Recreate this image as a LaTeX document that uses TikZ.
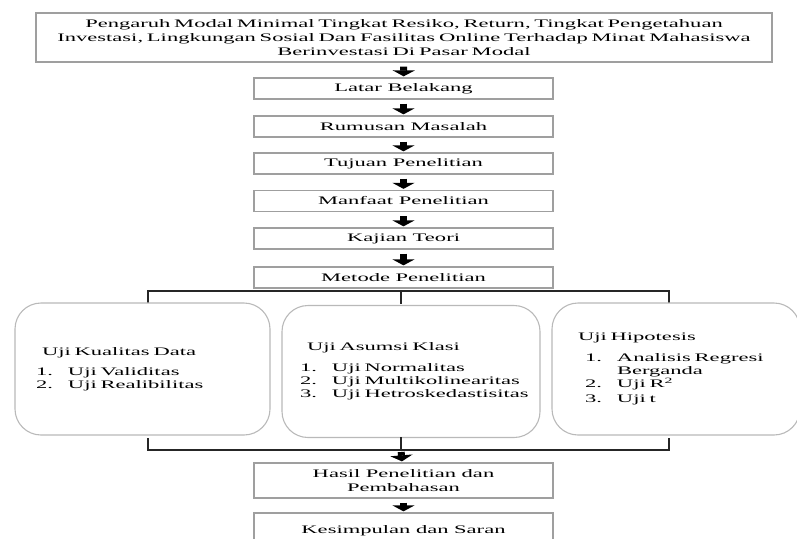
\documentclass[tikz,border=0pt]{standalone}
\usepackage{fontspec}
\setmainfont{Liberation Serif}[FakeStretch=1.96]
\usetikzlibrary{arrows.meta}
\newcommand{\itm}[2]{\mbox{\makebox[32pt][l]{#1}#2}}

\begin{document}
\begin{tikzpicture}[x=1pt,y=-1pt,
  box/.style={draw=gray!75,line width=1.3pt,minimum width=299pt,minimum height=21pt,
    inner sep=1pt,align=center,font=\fontsize{11.5}{14}\selectfont},
  ujibox/.style={draw=gray!55,line width=1.1pt,rounded corners=26pt,minimum height=132pt,
    align=left,font=\fontsize{11.5}{13}\selectfont},
  fat/.style={line width=7pt,-{Triangle[width=22pt,length=6pt]},shorten <=4pt,shorten >=1pt},
  brk/.style={line width=1.3pt,black!85}]

\useasboundingbox (0,0) rectangle (797,538);
\clip (0,0) rectangle (797,538);

\node[box,minimum width=736pt,minimum height=49pt,text width=730pt] (judul) at (404,37.5)
  {Pengaruh Modal Minimal Tingkat Resiko, Return, Tingkat Pengetahuan\\
   Investasi, Lingkungan Sosial Dan Fasilitas Online Terhadap Minat Mahasiswa\\
   Berinvestasi Di Pasar Modal};
\node[box] (latar) at (403.5,88.5) {Latar Belakang};
\node[box] (rumusan) at (403.5,126.5) {Rumusan Masalah};
\node[box] (tujuan) at (403.5,163.5) {Tujuan Penelitian};
\node[box] (manfaat) at (403.5,201) {Manfaat Penelitian};
\node[box] (kajian) at (403.5,238.5) {Kajian Teori};
\node[box] (metode) at (403.5,277.5) {Metode Penelitian};

\draw[fat] (judul) -- (latar);
\draw[fat] (latar) -- (rumusan);
\draw[fat] (rumusan) -- (tujuan);
\draw[fat] (tujuan) -- (manfaat);
\draw[fat] (manfaat) -- (kajian);
\draw[fat] (kajian) -- (metode);

% bracket to the three tests
\coordinate (ta) at (148,291);
\coordinate (tb) at (401,291);
\coordinate (tc) at (669,291);
\draw[brk] (148,303) -- (ta) -- (tc) -- (669,303);
\draw[brk] (tb) -- (401,304);

\node[ujibox,text width=213pt,inner xsep=21pt] (kualitas) at (142.5,369)
  {\hspace*{6pt}Uji Kualitas Data\\[7pt]
   \itm{1.}{Uji Validitas}\\
   \itm{2.}{Uji Realibilitas}};
\node[ujibox,text width=222pt,inner xsep=18pt] (asumsi) at (411,371.5)
  {\hspace*{7pt}Uji Asumsi Klasi\\[8pt]
   \itm{1.}{Uji Normalitas}\\
   \itm{2.}{Uji Multikolinearitas}\\
   \itm{3.}{Uji Hetroskedastisitas}};
\node[ujibox,text width=196pt,inner xsep=26pt] (hipotesis) at (676,369)
  {Uji Hipotesis\\[8pt]
   \hspace*{7pt}\itm{1.}{Analisis Regresi}\\
   \hspace*{7pt}\itm{}{Berganda}\\
   \hspace*{7pt}\itm{2.}{Uji R\textsuperscript{2}}\\[2pt]
   \hspace*{7pt}\itm{3.}{Uji t}};

\coordinate (ba) at (148,450);
\coordinate (bb) at (401,450);
\coordinate (bc) at (669,450);
\draw[brk] (148,438) -- (ba) -- (bc) -- (669,438);
\draw[brk] (401,437) -- (bb);

\node[box,minimum height=35pt] (hasil) at (403.5,480.5) {Hasil Penelitian dan\\Pembahasan};
\node[box,minimum height=36pt] (simpulan) at (403.5,531) {Kesimpulan dan Saran};

\draw[fat,shorten <=2pt] (bb) -- (hasil);
\draw[fat] (hasil) -- (simpulan);

\end{tikzpicture}
\end{document}
